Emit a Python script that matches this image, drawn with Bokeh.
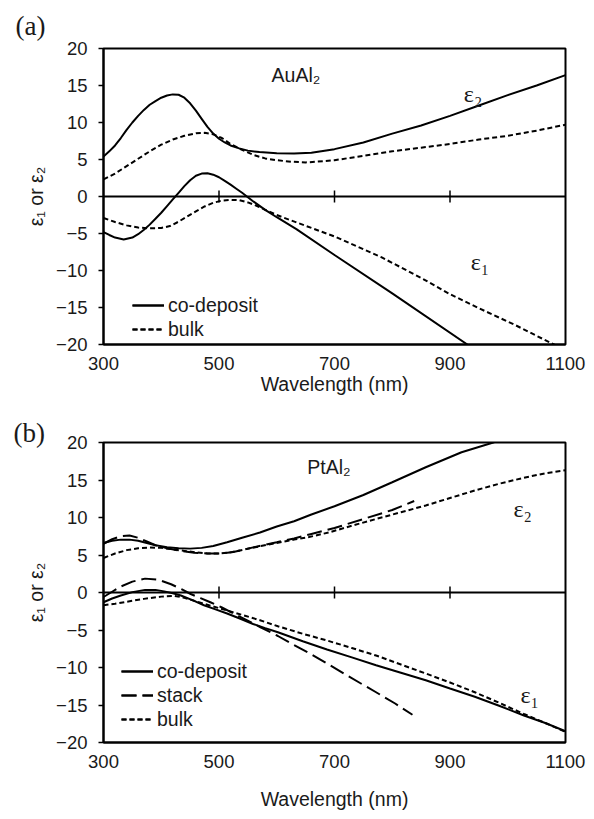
import math
from bokeh.plotting import figure
from bokeh.layouts import column
from bokeh.models import Range1d, FixedTicker, Span, Label, Legend, LegendItem, Title
from bokeh.embed import file_html
from bokeh.resources import INLINE

# ---------------- data: (a) AuAl2 ----------------
a_cd_e2_wl = [300, 310, 320, 330, 340, 350, 360, 370, 380, 390, 400, 410, 420, 430, 440, 450, 460, 470,
              480, 490, 500, 510, 520, 535, 550, 570, 600, 630, 660, 700, 750, 800, 850, 900, 950, 1000,
              1050, 1100]
a_cd_e2 = [5.4, 6.1, 6.9, 7.9, 9.0, 10.0, 10.9, 11.7, 12.4, 12.9, 13.35, 13.65, 13.8, 13.75, 13.35, 12.6,
           11.6, 10.5, 9.4, 8.5, 7.8, 7.3, 6.9, 6.5, 6.2, 6.0, 5.85, 5.8, 5.9, 6.4, 7.3, 8.5, 9.6, 10.9,
           12.3, 13.7, 15.0, 16.4]

a_bk_e2_wl = [300, 320, 340, 360, 380, 400, 420, 440, 460, 475, 490, 505, 520, 540, 560, 580, 600, 625,
              650, 700, 750, 800, 850, 900, 950, 1000, 1050, 1100]
a_bk_e2 = [2.3, 3.1, 4.1, 5.1, 6.1, 7.0, 7.7, 8.2, 8.55, 8.6, 8.4, 7.9, 7.1, 6.3, 5.6, 5.15, 4.9, 4.7,
           4.6, 4.9, 5.5, 6.1, 6.6, 7.1, 7.7, 8.2, 8.9, 9.7]

a_cd_e1_wl = [300, 310, 320, 335, 350, 360, 370, 380, 390, 400, 410, 420, 430, 440, 450, 460, 470, 480,
              490, 500, 510, 520, 530, 540, 550, 560, 580, 600, 634, 700, 800, 930, 945]
a_cd_e1 = [-4.8, -5.2, -5.55, -5.8, -5.55, -5.1, -4.5, -3.8, -3.0, -2.2, -1.3, -0.4, 0.5, 1.4, 2.2, 2.8,
           3.1, 3.15, 2.95, 2.6, 2.1, 1.6, 1.05, 0.5, -0.1, -0.7, -1.8, -2.8, -4.4, -7.9, -13.1, -20.0,
           -20.8]

a_bk_e1_wl = [300, 320, 340, 360, 380, 400, 415, 430, 445, 460, 475, 490, 505, 520, 535, 550, 565, 580,
              600, 634, 700, 781, 850, 900, 950, 1011, 1080, 1100]
a_bk_e1 = [-2.9, -3.45, -3.9, -4.2, -4.3, -4.25, -4.0, -3.4, -2.7, -2.0, -1.35, -0.85, -0.55, -0.45,
           -0.5, -0.8, -1.25, -1.8, -2.5, -3.5, -5.4, -8.2, -11.0, -13.2, -15.1, -17.3, -20.0, -20.8]

# ---------------- data: (b) PtAl2 ----------------
b_cd_e2_wl = [300, 315, 330, 345, 360, 375, 390, 410, 430, 450, 470, 490, 514, 540, 571, 600, 630, 660,
              700, 750, 800, 858, 920, 975, 1000]
b_cd_e2 = [6.6, 6.9, 7.05, 7.05, 6.9, 6.6, 6.3, 6.05, 5.9, 5.85, 5.95, 6.2, 6.7, 7.3, 8.0, 8.8, 9.5, 10.4,
           11.5, 13.0, 14.7, 16.7, 18.7, 20.0, 20.8]

b_st_e2_wl = [300, 315, 330, 345, 360, 375, 390, 410, 430, 457, 480, 502, 525, 550, 575, 600, 630, 660,
              700, 750, 800, 838]
b_st_e2 = [6.5, 7.1, 7.5, 7.6, 7.3, 6.8, 6.3, 5.9, 5.6, 5.3, 5.2, 5.2, 5.4, 5.85, 6.3, 6.7, 7.2, 7.8,
           8.6, 9.8, 11.0, 12.2]

b_bk_e2_wl = [300, 320, 340, 360, 380, 400, 420, 440, 460, 480, 500, 520, 542, 570, 599, 630, 656, 690,
              730, 772, 815, 858, 900, 943, 985, 1028, 1065, 1100]
b_bk_e2 = [4.6, 5.2, 5.65, 5.9, 6.0, 5.95, 5.75, 5.55, 5.35, 5.2, 5.2, 5.35, 5.7, 6.15, 6.6, 7.05, 7.4,
           8.0, 8.9, 9.8, 10.7, 11.6, 12.6, 13.6, 14.5, 15.3, 15.9, 16.3]

b_cd_e1_wl = [300, 315, 330, 350, 372, 390, 405, 420, 434, 455, 474, 494, 514, 537, 559, 580, 602, 645,
              687, 730, 772, 815, 858, 900, 943, 985, 1028, 1065, 1100]
b_cd_e1 = [-1.3, -0.8, -0.4, 0.05, 0.35, 0.35, 0.15, -0.1, -0.4, -1.05, -1.7, -2.25, -2.8, -3.5, -4.2,
           -4.75, -5.3, -6.5, -7.6, -8.65, -9.7, -10.7, -11.7, -12.8, -13.9, -15.1, -16.4, -17.4, -18.5]

b_st_e1_wl = [300, 315, 330, 350, 372, 395, 417, 435, 451, 468, 485, 505, 525, 548, 571, 602, 630, 659,
              690, 716, 745, 772, 805, 835]
b_st_e1 = [-0.6, 0.1, 0.8, 1.45, 1.85, 1.7, 1.1, 0.45, -0.2, -0.75, -1.3, -2.0, -2.8, -3.7, -4.6, -5.8,
           -7.0, -8.2, -9.6, -10.8, -12.1, -13.3, -14.8, -16.3]

b_bk_e1_wl = [300, 320, 343, 370, 400, 423, 440, 457, 485, 514, 545, 571, 602, 645, 687, 730, 772, 815,
              858, 900, 943, 985, 1028, 1065, 1100]
b_bk_e1 = [-1.7, -1.5, -1.2, -0.85, -0.55, -0.45, -0.7, -1.1, -1.75, -2.4, -3.1, -3.7, -4.5, -5.5, -6.4,
           -7.4, -8.4, -9.6, -10.8, -12.0, -13.3, -14.7, -16.2, -17.4, -18.6]

x_ticks = [300, 500, 700, 900, 1100]
y_ticks = [-20, -15, -10, -5, 0, 5, 10, 15, 20]

SANS = "Liberation Sans"
SERIF = "Liberation Serif"
INK = "#1a1a1a"
TICK_FS = "18.5px"
TEXT_FS = "19.5px"
EPS_FS = "24px"

STYLES = {
    "co-deposit": dict(line_dash="solid"),
    "stack": dict(line_dash="15 6"),
    "bulk": dict(line_dash="5 3"),
}


def make_panel(height, borders, series, tag, tag_standoff, notes, legend_loc, xlabel_standoff):
    left, right, top, bottom = borders
    p = figure(width=594, height=height, output_backend="svg", toolbar_location=None,
               x_range=Range1d(300, 1100), y_range=Range1d(-20, 20),
               min_border_left=left, min_border_right=right,
               min_border_top=top, min_border_bottom=bottom)
    p.background_fill_color = "white"
    p.border_fill_color = "white"
    p.outline_line_color = "black"
    p.outline_line_width = 2
    p.xgrid.visible = False
    p.ygrid.visible = False

    xa = p.xaxis[0]
    xa.ticker = FixedTicker(ticks=x_ticks)
    xa.major_tick_in = 0
    xa.major_tick_out = 0
    xa.minor_tick_line_color = None
    xa.axis_line_width = 2
    xa.major_label_text_font = SANS
    xa.major_label_text_font_size = TICK_FS
    xa.major_label_text_color = INK
    xa.major_label_standoff = 12
    xa.axis_label = "Wavelength (nm)"
    xa.axis_label_text_font = SANS
    xa.axis_label_text_font_size = TEXT_FS
    xa.axis_label_text_font_style = "normal"
    xa.axis_label_text_color = INK
    xa.axis_label_standoff = xlabel_standoff

    ya = p.yaxis[0]
    ya.ticker = FixedTicker(ticks=y_ticks)
    ya.major_tick_in = 0
    ya.major_tick_out = 5
    ya.major_tick_line_width = 1.5
    ya.minor_tick_line_color = None
    ya.axis_line_width = 2
    ya.major_label_text_font = SANS
    ya.major_label_text_font_size = TICK_FS
    ya.major_label_text_color = INK
    ya.major_label_standoff = 11
    ya.axis_label = "ε₁ or ε₂"
    ya.axis_label_text_font = SANS
    ya.axis_label_text_font_size = TEXT_FS
    ya.axis_label_text_font_style = "normal"
    ya.axis_label_text_color = INK
    ya.axis_label_standoff = 6

    # panel tag, e.g. "(a)", sitting at the far left above the frame
    p.add_layout(Title(text=tag, align="left", offset=-(left - 13), standoff=tag_standoff,
                       text_font=SERIF, text_font_size="27px", text_font_style="normal",
                       text_color=INK), "above")

    # zero line with crossing tick marks
    p.add_layout(Span(location=0, dimension="width", line_color="black", line_width=2))
    p.scatter(x=x_ticks[1:-1], y=[0] * (len(x_ticks) - 2), marker="dash", size=12,
              angle=math.pi / 2, line_color="black", line_width=1.5)

    items = []
    for name, curves in series:
        rs = []
        for wl, vals in curves:
            r = p.line(wl, vals, line_color="black", line_width=2, **STYLES[name])
            rs.append(r)
        items.append(LegendItem(label=name, renderers=rs))

    leg = Legend(items=items, location=legend_loc, orientation="vertical",
                 glyph_width=32, glyph_height=24, label_height=24, label_standoff=4,
                 spacing=0, padding=0, margin=0,
                 label_text_font=SANS, label_text_font_size=TEXT_FS, label_text_color=INK,
                 border_line_color=None, background_fill_alpha=0)
    p.add_layout(leg)

    for txt, x, y, font, size in notes:
        p.add_layout(Label(x=x, y=y, text=txt, text_font=font, text_font_size=size,
                           text_color=INK, text_baseline="middle", text_align="left"))
    return p


pa = make_panel(
    400, (101, 29, 48, 56),
    [("co-deposit", [(a_cd_e2_wl, a_cd_e2), (a_cd_e1_wl, a_cd_e1)]),
     ("bulk", [(a_bk_e2_wl, a_bk_e2), (a_bk_e1_wl, a_bk_e1)])],
    "(a)", 16,
    [("AuAl₂", 591, 16.4, SANS, TEXT_FS), ("ε₂", 924, 13.9, SERIF, EPS_FS),
     ("ε₁", 936, -8.9, SERIF, EPS_FS)],
    (29, 3), 0)

pb = make_panel(
    419, (103, 22, 42, 77),
    [("co-deposit", [(b_cd_e2_wl, b_cd_e2), (b_cd_e1_wl, b_cd_e1)]),
     ("stack", [(b_st_e2_wl, b_st_e2), (b_st_e1_wl, b_st_e1)]),
     ("bulk", [(b_bk_e2_wl, b_bk_e2), (b_bk_e1_wl, b_bk_e1)])],
    "(b)", -11,
    [("PtAl₂", 653, 16.8, SANS, TEXT_FS), ("ε₂", 1010, 11.1, SERIF, EPS_FS),
     ("ε₁", 1022, -13.7, SERIF, EPS_FS)],
    (18, 11), 17)

layout = column(pa, pb, spacing=0)
open("out.html", "w").write(file_html(layout, INLINE))
